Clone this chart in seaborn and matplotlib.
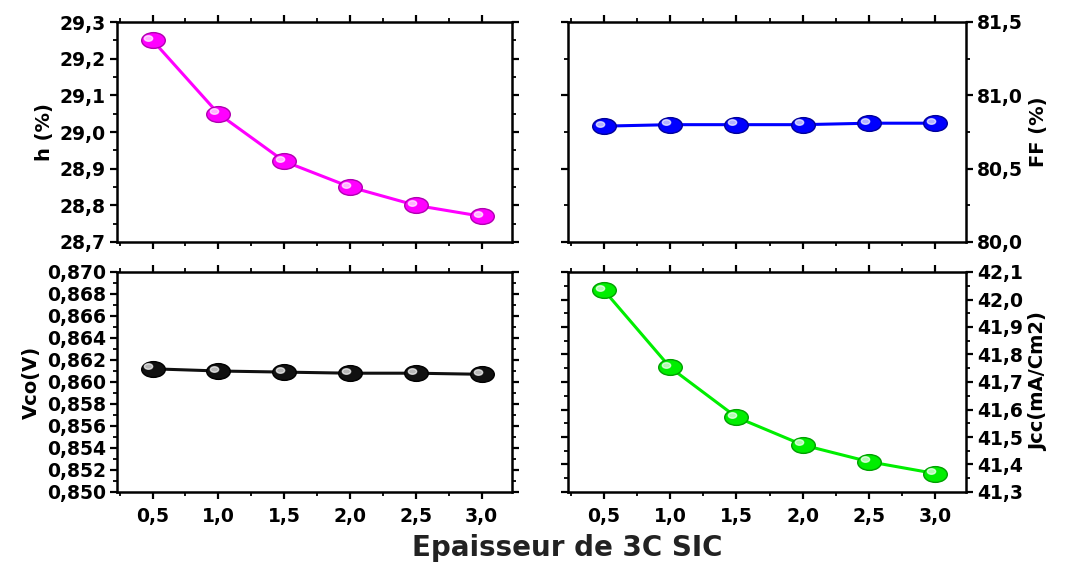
import numpy as np
import pandas as pd
import matplotlib
matplotlib.use("Agg")
import matplotlib.pyplot as plt
import matplotlib.transforms as mtransforms
from matplotlib.path import Path
from matplotlib.ticker import MultipleLocator, AutoMinorLocator, FuncFormatter
import seaborn as sns

# ---- data ----
thickness = [0.5, 1.0, 1.5, 2.0, 2.5, 3.0]
eta = [29.25, 29.05, 28.92, 28.85, 28.80, 28.77]
ff = [80.79, 80.80, 80.80, 80.80, 80.81, 80.81]
vco = [0.8612, 0.8610, 0.8609, 0.8608, 0.8608, 0.8607]
jcc = [42.034, 41.753, 41.572, 41.471, 41.410, 41.367]

x_label = "Epaisseur de 3C SIC"
y_labels = ["h (%)", "FF (%)", "Vco(V)", "Jcc(mA/Cm2)"]

sns.set_theme(style="ticks")
plt.rcParams['font.family'] = ['DejaVu Sans']
plt.rcParams['font.weight'] = 'bold'

# horizontally stretched ellipse marker (the reference image is stretched)
circ = Path.unit_circle()
ellipse = Path(circ.vertices * np.array([1.5, 1.0]), circ.codes)

fig = plt.figure(figsize=(10.8, 5.68), dpi=100)
W, H = 1080, 568
def box(l, r, t, b):
    return [l / W, 1 - b / H, (r - l) / W, (b - t) / H]

ax_tl = fig.add_axes(box(117, 512, 22, 242))
ax_tr = fig.add_axes(box(568, 966, 22, 242))
ax_bl = fig.add_axes(box(117, 512, 272, 492))
ax_br = fig.add_axes(box(568, 966, 272, 492))

panels = [
    (ax_tl, eta, "#FF00FF", "#B000B0", (28.7, 29.3), 0.1, "{:.1f}", y_labels[0], "left", False, 2),
    (ax_tr, ff, "#0000FF", "#00009A", (80.0, 81.5), 0.5, "{:.1f}", y_labels[1], "right", False, 2),
    (ax_bl, vco, "#111111", "#000000", (0.850, 0.870), 0.002, "{:.3f}", y_labels[2], "left", True, 2),
    (ax_br, jcc, "#00EE00", "#00A000", (41.3, 42.1), 0.1, "{:.1f}", y_labels[3], "right", True, 2),
]

def comma_fmt(fmt):
    return FuncFormatter(lambda v, p: fmt.format(v).replace(".", ","))

for ax, vals, col, edge, ylim, step, fmt, ylab, side, show_x, nminor in panels:
    df = pd.DataFrame({"x": thickness, "y": vals})
    sns.lineplot(data=df, x="x", y="y", ax=ax, color=col, linewidth=2.2,
                 marker=ellipse, markersize=17, markerfacecolor=col,
                 markeredgecolor=edge, markeredgewidth=1.0)
    # sphere highlight
    off = mtransforms.ScaledTranslation(-3.0 / 72, 1.8 / 72, fig.dpi_scale_trans)
    ax.plot(thickness, vals, linestyle="none", marker=ellipse, markersize=6,
            color="white", alpha=0.7, transform=ax.transData + off, zorder=5)

    ax.set_xlim(0.23, 3.23)
    ax.set_ylim(*ylim)
    ax.xaxis.set_major_locator(MultipleLocator(0.5))
    ax.xaxis.set_minor_locator(AutoMinorLocator(2))
    ax.yaxis.set_major_locator(MultipleLocator(step))
    ax.yaxis.set_minor_locator(AutoMinorLocator(nminor))
    ax.xaxis.set_major_formatter(comma_fmt("{:.1f}"))
    ax.yaxis.set_major_formatter(comma_fmt(fmt))

    for s in ax.spines.values():
        s.set_visible(True)
        s.set_linewidth(1.8)
        s.set_color("black")
    ax.tick_params(which="both", direction="out", top=True, right=True,
                   bottom=True, left=True, color="black")
    ax.tick_params(which="major", length=5, width=1.6)
    ax.tick_params(which="minor", length=3, width=1.3)
    ax.tick_params(axis="both", labelsize=13.5, labelcolor="black")

    if side == "right":
        ax.tick_params(axis="y", labelleft=False, labelright=True, pad=3)
        ax.yaxis.set_label_position("right")
    else:
        ax.tick_params(axis="y", labelleft=True, labelright=False, pad=3)
    ax.tick_params(axis="x", labelbottom=show_x, labeltop=False, pad=6)
    for lab in ax.get_xticklabels() + ax.get_yticklabels():
        lab.set_fontweight("bold")

    ax.set_xlabel("")
    ax.set_ylabel(ylab, fontsize=14, fontweight="bold", color="black",
                  rotation=90, labelpad=4)

fig.text(0.525, 1 - 548 / H, x_label, ha="center", va="center",
         fontsize=20, fontweight="bold", color="#222222")

fig.savefig("out.png", dpi=100)
